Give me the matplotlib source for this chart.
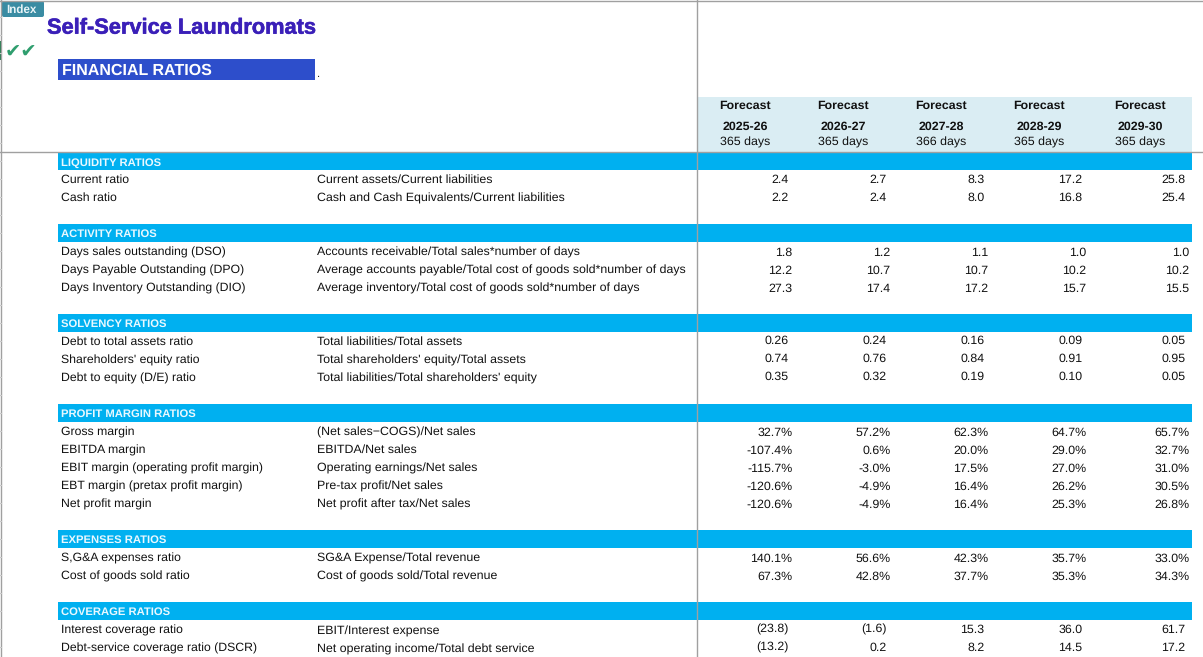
import matplotlib
matplotlib.use('Agg')
import matplotlib.pyplot as plt
import matplotlib.patheffects as pe
from matplotlib.patches import Rectangle, FancyBboxPatch

plt.rcParams['font.family'] = ['Liberation Sans', 'DejaVu Sans']
plt.rcParams['text.hinting'] = 'no_hinting'
plt.rcParams['text.hinting_factor'] = 8

years = ['2025-26', '2026-27', '2027-28', '2028-29', '2029-30']
days = ['365 days', '365 days', '366 days', '365 days', '365 days']

section_titles = ['LIQUIDITY RATIOS', 'ACTIVITY RATIOS', 'SOLVENCY RATIOS',
                  'PROFIT MARGIN RATIOS', 'EXPENSES RATIOS', 'COVERAGE RATIOS']

liquidity_names = ['Current ratio', 'Cash ratio']
liquidity_formulas = ['Current assets/Current liabilities', 'Cash and Cash Equivalents/Current liabilities']
liquidity_values = [['2.4', '2.7', '8.3', '17.2', '25.8'],
                    ['2.2', '2.4', '8.0', '16.8', '25.4']]

activity_names = ['Days sales outstanding (DSO)', 'Days Payable Outstanding (DPO)', 'Days Inventory Outstanding (DIO)']
activity_formulas = ['Accounts receivable/Total sales*number of days',
                     'Average accounts payable/Total cost of goods sold*number of days',
                     'Average inventory/Total cost of goods sold*number of days']
activity_values = [['1.8', '1.2', '1.1', '1.0', '1.0'],
                   ['12.2', '10.7', '10.7', '10.2', '10.2'],
                   ['27.3', '17.4', '17.2', '15.7', '15.5']]

solvency_names = ['Debt to total assets ratio', "Shareholders' equity ratio", 'Debt to equity (D/E) ratio']
solvency_formulas = ['Total liabilities/Total assets', "Total shareholders' equity/Total assets",
                     "Total liabilities/Total shareholders' equity"]
solvency_values = [['0.26', '0.24', '0.16', '0.09', '0.05'],
                   ['0.74', '0.76', '0.84', '0.91', '0.95'],
                   ['0.35', '0.32', '0.19', '0.10', '0.05']]

margin_names = ['Gross margin', 'EBITDA margin', 'EBIT margin (operating profit margin)',
                'EBT margin (pretax profit margin)', 'Net profit margin']
margin_formulas = ['(Net sales\u2212COGS)/Net sales', 'EBITDA/Net sales', 'Operating earnings/Net sales',
                   'Pre-tax profit/Net sales', 'Net profit after tax/Net sales']
margin_values = [['32.7%', '57.2%', '62.3%', '64.7%', '65.7%'],
                 ['-107.4%', '0.6%', '20.0%', '29.0%', '32.7%'],
                 ['-115.7%', '-3.0%', '17.5%', '27.0%', '31.0%'],
                 ['-120.6%', '-4.9%', '16.4%', '26.2%', '30.5%'],
                 ['-120.6%', '-4.9%', '16.4%', '25.3%', '26.8%']]

expenses_names = ['S,G&A expenses ratio', 'Cost of goods sold ratio']
expenses_formulas = ['SG&A Expense/Total revenue', 'Cost of goods sold/Total revenue']
expenses_values = [['140.1%', '56.6%', '42.3%', '35.7%', '33.0%'],
                   ['67.3%', '42.8%', '37.7%', '35.3%', '34.3%']]

coverage_names = ['Interest coverage ratio', 'Debt-service coverage ratio (DSCR)']
coverage_formulas = ['EBIT/Interest expense', 'Net operating income/Total debt service']
coverage_values = [['(23.8)', '(1.6)', '15.3', '36.0', '61.7'],
                   ['(13.2)', '0.2', '8.2', '14.5', '17.2']]

all_names = [liquidity_names, activity_names, solvency_names, margin_names, expenses_names, coverage_names]
all_formulas = [liquidity_formulas, activity_formulas, solvency_formulas, margin_formulas, expenses_formulas, coverage_formulas]
all_values = [liquidity_values, activity_values, solvency_values, margin_values, expenses_values, coverage_values]

# layout in pixels
band_top = [152, 224, 314, 404, 530, 602]
value_dx = [0, 4, 0, 4, 4, 0]
value_dy = [0, 1, -1, 1, 1, -0.5]
formula_dy = [0, 0, 0, 0, 0, 1]
col_right = [788.5, 886.5, 984.5, 1082.5, 1185.5]
head_centre = [745, 843, 941, 1039, 1140]
fs = 8.88

fig = plt.figure(figsize=(12.03, 6.57), dpi=100)
ax = fig.add_axes([0, 0, 1, 1])
ax.set_xlim(0, 1203)
ax.set_ylim(657, 0)
ax.axis('off')

# sheet lines
ax.plot([0, 1203], [0.5, 0.5], color='#a0a0a0', lw=1)
ax.plot([1, 1], [0, 657], color='#a0a0a0', lw=1)
for y in range(17, 657, 18):
    ax.plot([0, 1], [y, y], color='#c8c8c8', lw=0.8)

# forecast header
ax.add_patch(Rectangle((697, 97), 495, 55, color='#daedf3', lw=0))
for i in range(5):
    ax.text(head_centre[i], 105.5, 'Forecast', ha='center', va='center', fontsize=8.9, fontweight='bold', color='#111111')
    ax.text(head_centre[i], 126.5, years[i], ha='center', va='center', fontsize=8.9, fontweight='bold', color='#111111')
    ax.text(head_centre[i], 142, days[i], ha='center', va='center', fontsize=fs, color='#111111')

# title block
ax.add_patch(FancyBboxPatch((2, 1), 42, 16, boxstyle='round,pad=0,rounding_size=2', color='#3a8ca3', lw=0))
ax.text(21, 9.5, 'Index', ha='center', va='center', fontsize=8.4, fontweight='bold', color='#e8f4f7')
ax.text(47, 28, 'Self-Service Laundromats', ha='left', va='center', fontsize=15.7, fontweight='bold', color='#3a1fb8',
        path_effects=[pe.withStroke(linewidth=0.4, foreground='#3a1fb8')])
ax.add_patch(Rectangle((0, 41), 2, 19, color='#1f7a4c', lw=0))
ax.text(5, 52, '\u2714\u2714', ha='left', va='center', fontsize=14, color='#2f9e6e', family='DejaVu Sans')
ax.add_patch(Rectangle((58, 59), 257, 21, color='#2d4ecb', lw=0))
ax.text(62, 71, 'FINANCIAL RATIOS', ha='left', va='center', fontsize=11.5, fontweight='bold', color='white')
ax.text(317, 74, '.', ha='left', va='center', fontsize=8, color='#222222')

for s in range(len(section_titles)):
    top = band_top[s]
    ax.add_patch(Rectangle((58, top), 1134, 18, color='#00b0f0', lw=0))
    ax.text(61, top + 10.5, section_titles[s], ha='left', va='center', fontsize=8.1, fontweight='bold', color='#e9f8ff')
    for r in range(len(all_names[s])):
        y = top + 28 + 18 * r
        ax.text(61, y, all_names[s][r], ha='left', va='center', fontsize=8.82, color='#111111')
        ax.text(317, y + formula_dy[s], all_formulas[s][r], ha='left', va='center', fontsize=fs, color='#111111')
        for c in range(5):
            ax.text(col_right[c] + value_dx[s], y + value_dy[s], all_values[s][r][c], ha='right', va='center',
                    fontsize=fs, color='#111111')

# lines over the bands
ax.plot([0, 1203], [151.5, 151.5], color='#a0a0a0', lw=1)
ax.plot([697, 697], [0, 657], color='#a0a0a0', lw=1)

fig.savefig('out.png', dpi=100)
